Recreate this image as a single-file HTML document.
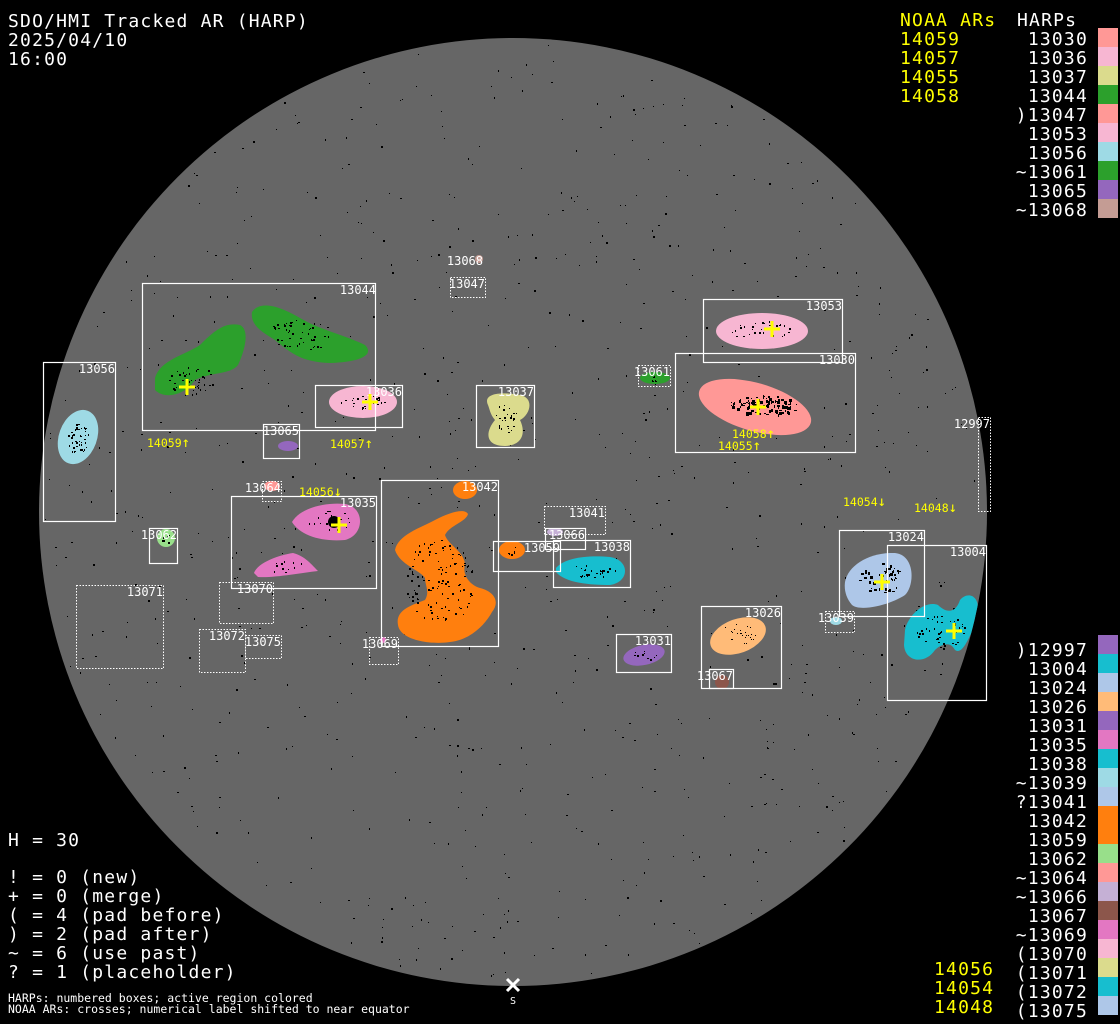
<!DOCTYPE html>
<html><head><meta charset="utf-8"><style>
html,body{margin:0;padding:0;background:#000;}
svg{display:block;}
.m{font-family:"DejaVu Sans Mono","Liberation Mono",monospace;}
</style></head><body>
<svg id="s" width="1120" height="1024" viewBox="0 0 1120 1024" xmlns="http://www.w3.org/2000/svg">
<rect width="1120" height="1024" fill="#000"/>
<defs><clipPath id="disk"><circle cx="513" cy="512" r="474"/></clipPath></defs>
<circle cx="513" cy="512" r="474" fill="#666"/>
<g id="dots" clip-path="url(#disk)"></g>
<g clip-path="url(#disk)">
<ellipse cx="78" cy="437" rx="19" ry="28" transform="rotate(20 78 437)" fill="#9edae5"/>
<path d="M155,378 C160,360 185,355 200,345 C215,330 225,322 240,325 C250,330 245,350 238,365 C230,375 210,372 195,380 C185,395 165,400 155,390 Z" fill="#2ca02c"/>
<path d="M252,312 C260,300 280,306 300,318 C320,330 345,335 365,345 C375,355 360,362 330,363 C300,362 290,352 275,340 C262,332 250,325 252,312 Z" fill="#2ca02c"/>
<ellipse cx="363" cy="402" rx="34" ry="16" fill="#f7b6d2"/>
<path d="M488,405 C482,392 505,392 520,395 C535,398 530,415 520,420 C525,430 525,445 505,446 C485,446 485,432 495,420 C490,414 490,410 488,405 Z" fill="#dbdb8d"/>
<ellipse cx="288" cy="446" rx="10" ry="5" fill="#9467bd"/>
<path d="M292,522 C300,508 325,502 345,504 C365,507 365,535 345,540 C320,542 300,535 292,522 Z" fill="#e377c2"/>
<path d="M254,573 C258,562 280,555 293,553 C305,556 312,565 318,571 C300,573 275,578 258,577 Z" fill="#e377c2"/>
<path d="M395,550 C398,535 420,528 435,520 C450,512 465,508 468,514 C466,522 450,525 445,535 C448,545 465,552 465,565 C462,575 470,585 480,588 C495,592 500,602 492,612 C485,625 470,640 450,642 C430,645 400,640 398,625 C395,610 412,605 425,600 C430,592 425,585 425,578 C420,570 400,565 395,550 Z" fill="#ff7f0e"/>
<ellipse cx="465" cy="490" rx="12" ry="9" fill="#ff7f0e"/>
<circle cx="166" cy="538" r="9" fill="#98df8a"/>
<ellipse cx="762" cy="331" rx="46" ry="18" fill="#f7b6d2"/>
<ellipse cx="755" cy="407" rx="58" ry="24" transform="rotate(16 755 407)" fill="#ff9896"/>
<ellipse cx="655" cy="378" rx="15" ry="6" fill="#2ca02c"/>
<ellipse cx="512" cy="550" rx="13" ry="9" fill="#ff7f0e"/>
<path d="M556,568 C565,557 590,555 610,557 C630,560 630,582 610,585 C590,585 565,583 556,572 Z" fill="#17becf"/>
<ellipse cx="555" cy="532" rx="8" ry="4" fill="#c5b0d5"/>
<path d="M845,582 C848,565 870,552 895,553 C915,555 915,585 905,595 C890,605 860,612 852,605 C846,598 844,590 845,582 Z" fill="#aec7e8"/>
<path d="M905,630 C908,615 925,600 938,605 C945,612 955,615 960,600 C968,590 985,595 975,625 C968,640 962,655 955,650 C950,640 940,645 935,650 C925,665 905,662 904,645 Z" fill="#17becf"/>
<ellipse cx="836" cy="621" rx="6" ry="4" fill="#9edae5"/>
<ellipse cx="738" cy="636" rx="29" ry="17" transform="rotate(-20 738 636)" fill="#ffbb78"/>
<ellipse cx="644" cy="655" rx="21" ry="10" transform="rotate(-12 644 655)" fill="#9467bd"/>
<circle cx="722" cy="682" r="7" fill="#8c564b"/>
<ellipse cx="272" cy="486" rx="8" ry="5" fill="#ff9896"/>
<circle cx="383" cy="640" r="3" fill="#e377c2"/>
<circle cx="479" cy="259" r="4" fill="#c49c94"/>
<circle cx="334" cy="522" r="6" fill="#000"/>
<g id="spots" fill="#000"></g>
</g>
<g fill="none" stroke="#fff" stroke-width="1.2">
<rect x="142.5" y="283.5" width="233" height="147"/>
<rect x="43.5" y="362.5" width="72" height="159"/>
<rect x="315.5" y="385.5" width="87" height="42"/>
<rect x="476.5" y="385.5" width="58" height="62"/>
<rect x="263.5" y="424.5" width="36" height="34"/>
<rect x="231.5" y="496.5" width="145" height="92"/>
<rect x="381.5" y="480.5" width="117" height="166"/>
<rect x="149.5" y="528.5" width="28" height="35"/>
<rect x="703.5" y="299.5" width="139" height="63"/>
<rect x="675.5" y="353.5" width="180" height="99"/>
<rect x="545.5" y="528.5" width="40" height="21"/>
<rect x="493.5" y="541.5" width="67" height="30"/>
<rect x="553.5" y="540.5" width="77" height="47"/>
<rect x="839.5" y="530.5" width="85" height="86"/>
<rect x="887.5" y="545.5" width="99" height="155"/>
<rect x="701.5" y="606.5" width="80" height="82"/>
<rect x="616.5" y="634.5" width="55" height="38"/>
<rect x="709.5" y="669.5" width="24" height="19"/>
</g>
<g fill="none" stroke="#fff" stroke-width="1" stroke-dasharray="1.5 1.5">
<rect x="638.5" y="365.5" width="32" height="21"/>
<rect x="978.5" y="417.5" width="12" height="94"/>
<rect x="544.5" y="506.5" width="61" height="28"/>
<rect x="825.5" y="611.5" width="29" height="21"/>
<rect x="76.5" y="585.5" width="87" height="83"/>
<rect x="219.5" y="582.5" width="54" height="41"/>
<rect x="199.5" y="629.5" width="46" height="43"/>
<rect x="245.5" y="635.5" width="36" height="23"/>
<rect x="369.5" y="637.5" width="29" height="27"/>
<rect x="262.5" y="481.5" width="19" height="20"/>
<rect x="450.5" y="277.5" width="35" height="20"/>
</g>
<g class="m" font-size="12" fill="#fff" text-anchor="end">
<text x="376" y="294">13044</text>
<text x="115" y="373">13056</text>
<text x="402" y="396">13036</text>
<text x="534" y="396">13037</text>
<text x="299" y="435">13065</text>
<text x="376" y="507">13035</text>
<text x="498" y="491">13042</text>
<text x="177" y="539">13062</text>
<text x="842" y="310">13053</text>
<text x="855" y="364">13030</text>
<text x="670" y="376">13061</text>
<text x="990" y="428">12997</text>
<text x="605" y="517">13041</text>
<text x="585" y="539">13066</text>
<text x="560" y="552">13059</text>
<text x="630" y="551">13038</text>
<text x="924" y="541">13024</text>
<text x="986" y="556">13004</text>
<text x="854" y="622">13039</text>
<text x="781" y="617">13026</text>
<text x="671" y="645">13031</text>
<text x="733" y="680">13067</text>
<text x="163" y="596">13071</text>
<text x="273" y="593">13070</text>
<text x="245" y="640">13072</text>
<text x="281" y="646">13075</text>
<text x="398" y="648">13069</text>
<text x="281" y="492">13064</text>
<text x="485" y="288">13047</text>
<text x="483" y="265">13068</text>
</g>
<g stroke="#ff0" stroke-width="3">
<path d="M179,387h16M187,379v16"/>
<path d="M362,402h16M370,394v16"/>
<path d="M331,525h16M339,517v16"/>
<path d="M764,329h16M772,321v16"/>
<path d="M750,407h16M758,399v16"/>
<path d="M874,582h16M882,574v16"/>
<path d="M946,631h16M954,623v16"/>
</g>
<g class="m" font-size="11.5" fill="#ff0">
<text x="147" y="447">14059<tspan font-size="14">↑</tspan></text>
<text x="330" y="448">14057<tspan font-size="14">↑</tspan></text>
<text x="299" y="496">14056<tspan font-size="14">↓</tspan></text>
<text x="732" y="438">14058<tspan font-size="14">↑</tspan></text>
<text x="718" y="450">14055<tspan font-size="14">↑</tspan></text>
<text x="843" y="506">14054<tspan font-size="14">↓</tspan></text>
<text x="914" y="512">14048<tspan font-size="14">↓</tspan></text>
</g>
<path d="M507,979l12,12M519,979l-12,12" stroke="#fff" stroke-width="3"/>
<text class="m" x="513" y="1004" font-size="10" fill="#fff" text-anchor="middle">S</text>
<g class="m" font-size="18" fill="#fff" letter-spacing="1.2">
<text x="8" y="27">SDO/HMI Tracked AR (HARP)</text>
<text x="8" y="46">2025/04/10</text>
<text x="8" y="65">16:00</text>
<text x="8" y="846">H = 30</text>
<text x="8" y="883">! = 0 (new)</text>
<text x="8" y="902">+ = 0 (merge)</text>
<text x="8" y="921">( = 4 (pad before)</text>
<text x="8" y="940">) = 2 (pad after)</text>
<text x="8" y="959">~ = 6 (use past)</text>
<text x="8" y="978">? = 1 (placeholder)</text>
</g>
<g class="m" font-size="11.5" fill="#fff">
<text x="8" y="1002">HARPs: numbered boxes; active region colored</text>
<text x="8" y="1013">NOAA ARs: crosses; numerical label shifted to near equator</text>
</g>
<g class="m" font-size="18" letter-spacing="1.2">
<text x="900" y="26" fill="#ff0">NOAA ARs</text>
<text x="1017" y="26" fill="#fff">HARPs</text>
<g fill="#ff0">
<text x="900" y="45">14059</text><text x="900" y="64">14057</text><text x="900" y="83">14055</text><text x="900" y="102">14058</text>
<text x="934" y="975">14056</text><text x="934" y="994">14054</text><text x="934" y="1013">14048</text>
</g>
<g fill="#fff" text-anchor="end" id="rl"></g>
</g>
<g id="sw"></g>
</svg>
<script>
(function(){
var NS="http://www.w3.org/2000/svg";
var top=[["13030","#ff9896"],["13036","#f7b6d2"],["13037","#dbdb8d"],["13044","#2ca02c"],[")13047","#ff9896"],["13053","#f7b6d2"],["13056","#9edae5"],["~13061","#2ca02c"],["13065","#9467bd"],["~13068","#c49c94"]];
var bot=[[")12997","#9467bd"],["13004","#17becf"],["13024","#aec7e8"],["13026","#ffbb78"],["13031","#9467bd"],["13035","#e377c2"],["13038","#17becf"],["~13039","#9edae5"],["?13041","#aec7e8"],["13042","#ff7f0e"],["13059","#ff7f0e"],["13062","#98df8a"],["~13064","#ff9896"],["~13066","#c5b0d5"],["13067","#8c564b"],["~13069","#e377c2"],["(13070","#f7b6d2"],["(13071","#dbdb8d"],["(13072","#17becf"],["(13075","#aec7e8"]];
var rl=document.getElementById("rl"),sw=document.getElementById("sw");
function add(list,base,swTop){list.forEach(function(it,i){
var t=document.createElementNS(NS,"text");t.setAttribute("x","1088");t.setAttribute("y",base+19*i);t.textContent=it[0];rl.appendChild(t);
var r=document.createElementNS(NS,"rect");r.setAttribute("x","1098");r.setAttribute("y",swTop+19*i);r.setAttribute("width","20");r.setAttribute("height","19");r.setAttribute("fill",it[1]);sw.appendChild(r);});}
add(top,45,28);add(bot,656,635);
var s=12345;function rnd(){s=(s*1103515245+12345)%2147483648;return s/2147483648;}
function rect(g,x,y,w,h){var r=document.createElementNS(NS,"rect");r.setAttribute("x",x.toFixed(0));r.setAttribute("y",y.toFixed(0));r.setAttribute("width",w);r.setAttribute("height",h);g.appendChild(r);}
var d=document.getElementById("dots");d.setAttribute("fill","#000");
for(var i=0;i<900;i++){var a=rnd()*6.283,rr=Math.sqrt(rnd())*470;rect(d,513+rr*Math.cos(a),512+rr*Math.sin(a),rnd()<0.3?2:1,rnd()<0.3?2:1);}
var sp=document.getElementById("spots");
// clusters: cx,cy,rx,ry,count,size
var C=[[78,437,10,18,40,2],[190,380,25,15,40,2],[300,335,35,15,50,2],[363,402,22,8,25,2],[505,418,12,18,25,2],[330,520,25,10,20,2],[285,566,20,6,12,2],[440,580,35,45,120,2],[762,330,32,10,30,2],[765,405,35,10,110,3],[595,570,22,8,25,2],[880,578,22,15,45,3],[940,630,25,20,45,2],[738,634,18,10,25,1],[644,655,12,5,10,2],[655,378,8,3,6,2],[512,550,6,4,6,2],[166,538,5,5,6,2]];
C.forEach(function(c){for(var i=0;i<c[4];i++){var a=rnd()*6.283,rr=Math.sqrt(rnd());rect(sp,c[0]+c[2]*rr*Math.cos(a),c[1]+c[3]*rr*Math.sin(a),1+Math.floor(rnd()*c[5]),1+Math.floor(rnd()*c[5]));}});
})();
</script>
</body></html>
